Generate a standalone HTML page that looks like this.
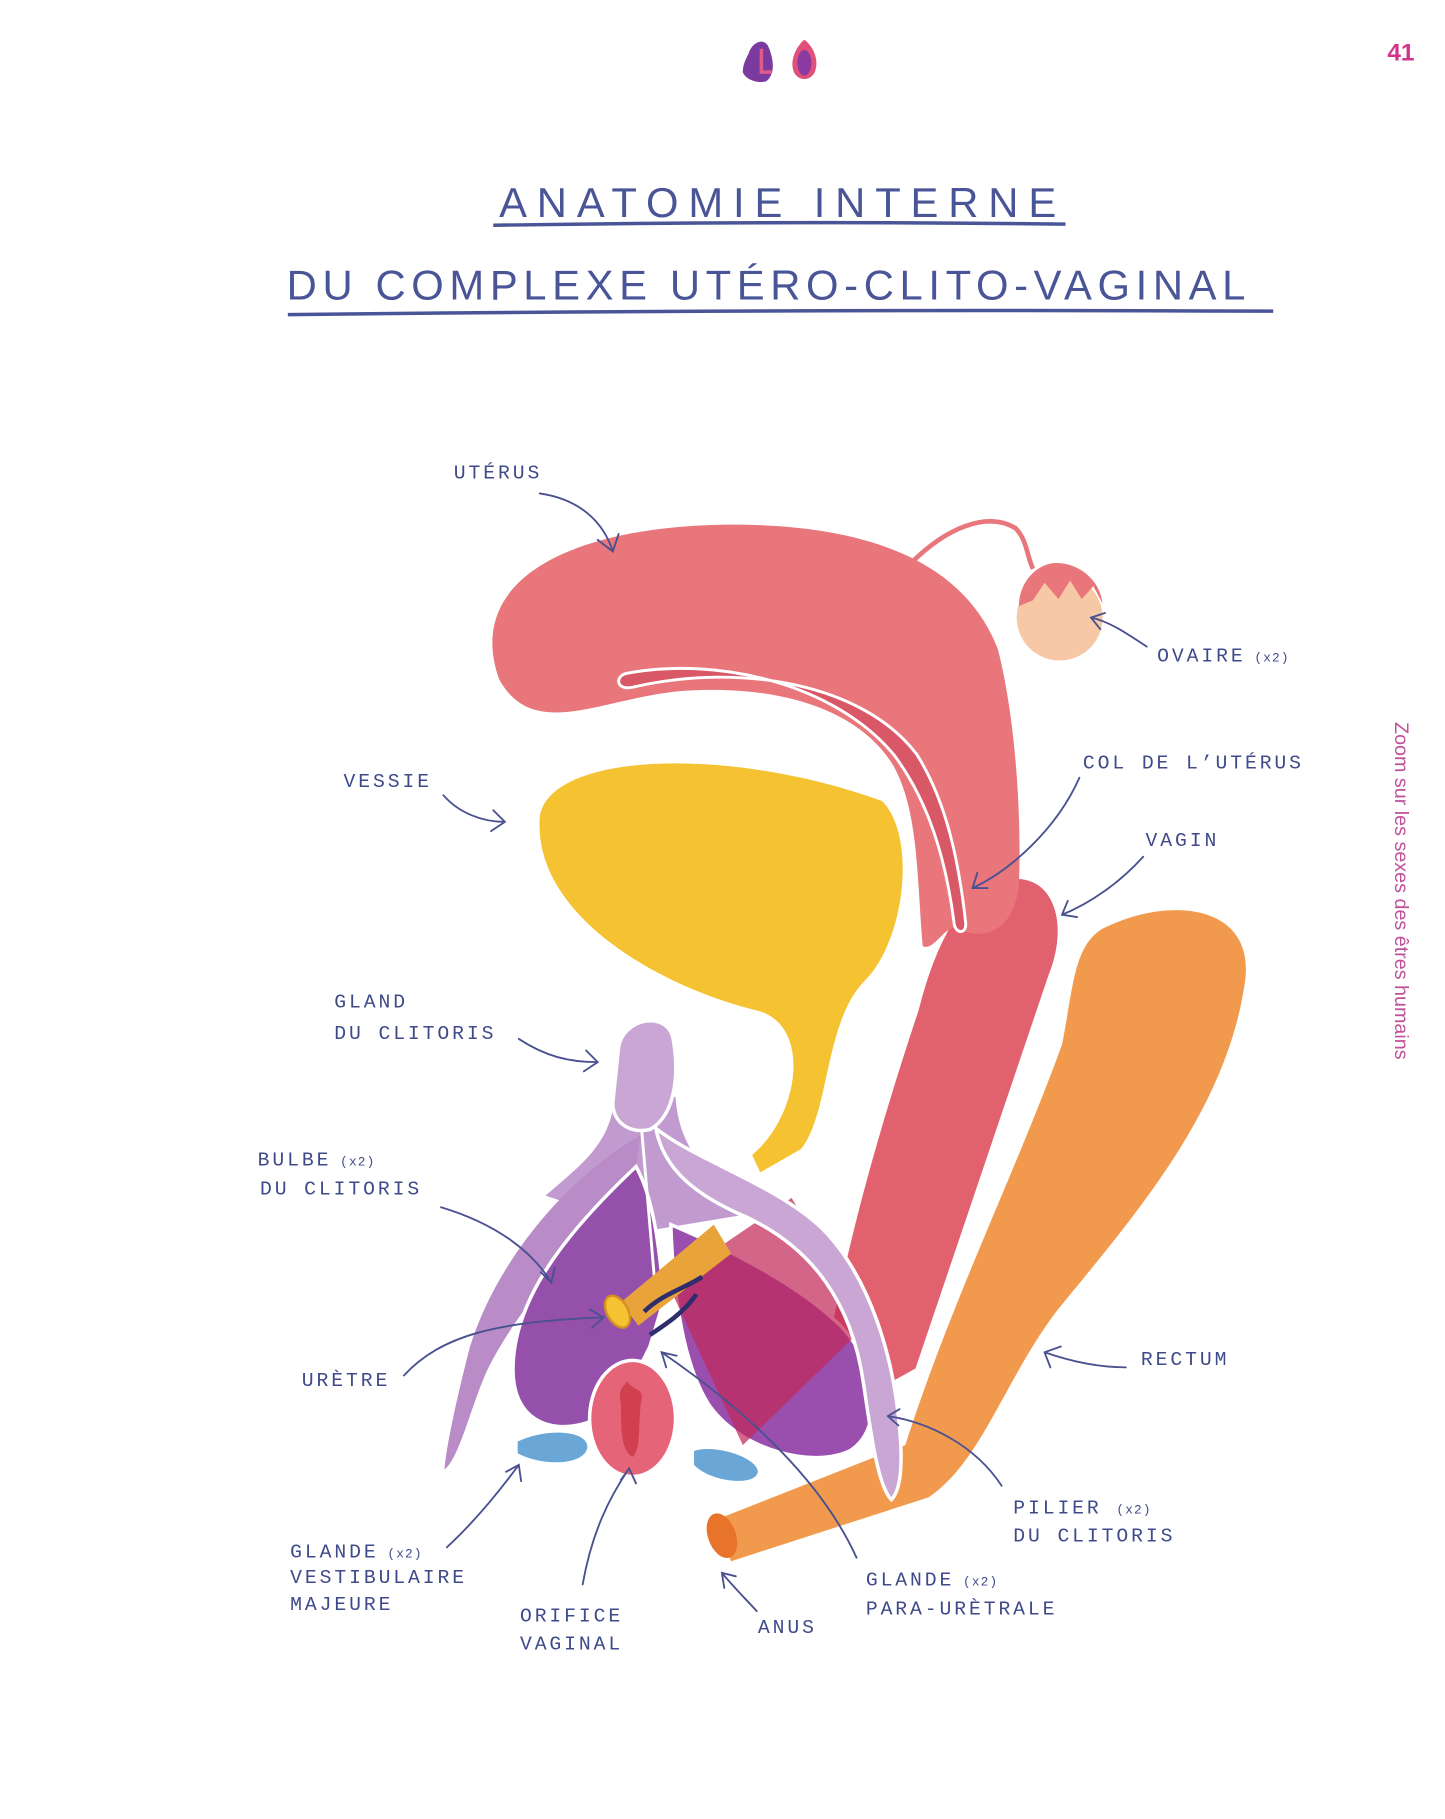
<!DOCTYPE html>
<html><head><meta charset="utf-8"><style>
html,body{margin:0;padding:0;background:#fff;}
svg{display:block;}
text{font-family:"Liberation Sans",sans-serif;}
.t{fill:#4a5597;font-size:36px;font-family:"Liberation Sans",sans-serif;}
.l{fill:#3f4a8a;font-size:17px;letter-spacing:2.5px;font-family:"Liberation Mono",monospace;}
.s{font-size:11px;letter-spacing:1px;}
.a{fill:none;stroke:#4a5190;stroke-width:1.6;stroke-linecap:round;}
</style></head><body>
<svg width="1445" height="1819" viewBox="0 0 1245 1567" xmlns="http://www.w3.org/2000/svg">
<rect width="1245" height="1567" fill="#fff"/>
<path d="M645,46 C648,36 658,32 662,40 C667,52 668,64 660,70 C652,72 642,68 640,62 C640,56 642,52 645,46Z" fill="#7a3aa0"/>
<path d="M656,42 L656,62 L665,62" stroke="#e05a8a" stroke-width="3" fill="none"/>
<path d="M693,34 C701,40 706,52 702,62 C698,70 688,70 684,62 C680,52 686,40 693,34Z" fill="#e0507a"/>
<ellipse cx="693" cy="54" rx="6" ry="11" fill="#8a3aa0"/>
<text x="1207" y="52" text-anchor="middle" style="font-weight:bold;font-size:21px;fill:#d2348a">41</text>
<text class="t" x="430" y="187" textLength="480" lengthAdjust="spacing">ANATOMIE INTERNE</text>
<path d="M425,194 Q670,190 918,193" stroke="#4a5597" stroke-width="3" fill="none"/>
<text class="t" x="247" y="258" textLength="826" lengthAdjust="spacing">DU COMPLEXE UTÉRO-CLITO-VAGINAL</text>
<path d="M248,271 Q670,266 1097,268" stroke="#4a5597" stroke-width="3" fill="none"/>
<text x="1202" y="622" transform="rotate(90 1202 622)" style="font-size:17px;fill:#c0509a">Zoom sur les sexes des êtres humains</text>
<path d="M950,800 C1010,770 1085,780 1072,850 C1055,960 975,1050 910,1130 C865,1190 845,1260 800,1290 L630,1345 L615,1310 L780,1245 C820,1120 875,1010 915,900 C925,850 925,815 950,800Z" fill="#f19a4e"/>
<ellipse cx="622" cy="1323" rx="12" ry="20" transform="rotate(-20 622 1323)" fill="#e8742c"/>
<path d="M862,758 C905,745 925,790 905,840 L790,1180 L700,1230 C720,1100 750,990 790,870 C805,810 830,765 862,758Z" fill="#e2616e" stroke="#fff" stroke-width="3"/>
<path d="M430,585 C400,500 490,455 620,452 C740,450 830,480 860,560 C875,620 880,700 878,760 C875,800 850,812 825,800 C815,795 805,820 795,815 C790,760 792,700 770,660 C740,610 670,590 590,595 C520,600 460,640 430,585Z" fill="#e8767b"/>
<path d="M540,580 C620,565 720,590 770,650 C800,690 815,740 822,795 C823,805 833,805 832,795 C826,740 815,690 790,650 C745,590 640,570 545,592 C530,595 530,582 540,580Z" fill="#d95868" stroke="#fff" stroke-width="2.5"/>
<path d="M785,485 C815,455 850,440 875,455 C885,465 885,480 890,490" stroke="#e8767b" stroke-width="4" fill="none"/>
<circle cx="913" cy="532" r="37" fill="#f7c8a6"/>
<path d="M878,522 C878,500 895,485 910,485 C930,485 948,500 950,520 L942,505 L932,516 L922,500 L912,516 L900,502 L890,517 Z" fill="#e8767b"/>
<path d="M465,705 C470,650 620,640 760,690 C790,720 780,810 745,845 C710,880 715,960 690,990 L655,1010 L648,995 C690,960 700,880 650,870 C570,850 460,790 465,705Z" fill="#f5c232"/>
<!-- clitoris body joining -->
<path d="M530,945 C525,985 505,1000 470,1030 L560,1060 L650,1045 C610,1015 585,990 582,945Z" fill="#c19bd0"/>
<path d="M552,978 C495,1010 430,1080 405,1160 C392,1210 384,1250 383,1266 C396,1256 406,1210 420,1180 C440,1140 480,1085 545,1025 Z" fill="#b98cc8"/>
<path d="M548,1005 C495,1055 442,1115 442,1180 C442,1222 472,1236 505,1226 C530,1216 548,1185 560,1160 L572,1120 C568,1070 562,1030 548,1005Z" fill="#9450ab" stroke="#fff" stroke-width="3"/>
<path d="M578,1055 C625,1075 685,1105 722,1140 C758,1175 762,1232 732,1250 C700,1265 640,1250 612,1212 C590,1180 580,1120 578,1055Z" fill="#9a4ead" stroke="#fff" stroke-width="3"/>
<path d="M575,1105 L682,1032 L748,1140 L640,1245Z" fill="#c02a5a" opacity="0.72"/>
<path d="M565,972 C600,1000 668,1020 708,1058 C750,1100 770,1170 775,1230 C778,1262 776,1284 768,1292 C756,1280 750,1232 744,1192 C734,1122 700,1075 642,1048 C600,1030 572,1008 565,972Z" fill="#c9a6d4" stroke="#fff" stroke-width="3"/>
<path d="M533,902 C537,877 575,870 580,895 C586,930 580,962 560,973 C544,977 528,968 528,950 Z" fill="#c9a6d3" stroke="#fff" stroke-width="3"/>
<path d="M553,975 L565,1115" stroke="#fff" stroke-width="2.5"/>
<path d="M535,1122 L615,1055 L630,1080 L550,1142Z" fill="#e8a43a"/>
<ellipse cx="532" cy="1130" rx="9" ry="15" transform="rotate(-30 532 1130)" fill="#f5c232" stroke="#d49020" stroke-width="2"/>
<path d="M555,1130 C570,1115 590,1110 605,1100 M560,1150 C575,1140 590,1130 600,1115" stroke="#2e2d6e" stroke-width="4" fill="none"/>
<ellipse cx="545" cy="1222" rx="37" ry="50" fill="#e56478" stroke="#fff" stroke-width="3"/>
<path d="M540,1190 C548,1200 556,1195 552,1210 C550,1230 552,1250 545,1255 C535,1250 535,1230 535,1210 C532,1195 538,1195 540,1190Z" fill="#d0404e"/>
<path d="M446,1242 C470,1230 507,1232 506,1247 C504,1262 468,1264 446,1252Z" fill="#6aa6d6"/>
<path d="M598,1250 C615,1244 652,1255 653,1268 C651,1281 612,1277 598,1262Z" fill="#6aa6d6"/>
<text class="l" x="391" y="412">UTÉRUS</text>
<path class="a" d="M465,425 C500,430 520,450 528,475 M515,465 L528,475 L533,460"/>
<text class="l" x="997" y="570">OVAIRE<tspan class="s"> (x2)</tspan></text>
<path class="a" d="M988,557 C970,545 955,535 940,532 M952,528 L940,532 L948,542"/>
<text class="l" x="296" y="678">VESSIE</text>
<path class="a" d="M382,685 C395,700 415,708 435,708 M425,698 L435,708 L423,716"/>
<text class="l" x="933" y="662">COL DE L’UTÉRUS</text>
<path class="a" d="M930,670 C910,715 870,750 838,765 M842,752 L838,765 L851,765"/>
<text class="l" x="987" y="729">VAGIN</text>
<path class="a" d="M985,738 C965,760 940,778 915,788 M920,776 L915,788 L928,790"/>
<text class="l" x="288" y="868">GLAND</text>
<text class="l" x="288" y="895">DU CLITORIS</text>
<path class="a" d="M447,895 C470,910 490,915 515,915 M505,905 L515,915 L503,923"/>
<text class="l" x="222" y="1004">BULBE<tspan class="s"> (x2)</tspan></text>
<text class="l" x="224" y="1029">DU CLITORIS</text>
<path class="a" d="M380,1040 C430,1055 460,1080 475,1105 M466,1096 L475,1105 L478,1092"/>
<text class="l" x="260" y="1194">URÈTRE</text>
<path class="a" d="M348,1185 C380,1150 430,1138 520,1135 M508,1128 L520,1135 L510,1144"/>
<text class="l" x="983" y="1176">RECTUM</text>
<path class="a" d="M970,1178 C945,1178 920,1172 900,1165 M905,1178 L900,1165 L914,1160"/>
<text class="l" x="873" y="1304">PILIER <tspan class="s">(x2)</tspan></text>
<text class="l" x="873" y="1328">DU CLITORIS</text>
<path class="a" d="M863,1280 C840,1245 800,1225 765,1220 M775,1214 L765,1220 L774,1228"/>
<text class="l" x="250" y="1342">GLANDE<tspan class="s"> (x2)</tspan></text>
<text class="l" x="250" y="1364">VESTIBULAIRE</text>
<text class="l" x="250" y="1387">MAJEURE</text>
<path class="a" d="M385,1333 C410,1310 430,1285 447,1262 M436,1268 L447,1262 L449,1276"/>
<text class="l" x="448" y="1397">ORIFICE</text>
<text class="l" x="448" y="1421">VAGINAL</text>
<path class="a" d="M502,1365 C510,1320 525,1290 542,1265 M535,1275 L542,1265 L548,1278"/>
<text class="l" x="653" y="1407">ANUS</text>
<path class="a" d="M652,1388 C640,1375 630,1365 622,1355 M624,1368 L622,1355 L634,1358"/>
<text class="l" x="746" y="1366">GLANDE<tspan class="s"> (x2)</tspan></text>
<text class="l" x="746" y="1391">PARA-URÈTRALE</text>
<path class="a" d="M738,1342 C710,1280 650,1220 570,1165 M574,1178 L570,1165 L583,1168"/>
</svg>
</body></html>
